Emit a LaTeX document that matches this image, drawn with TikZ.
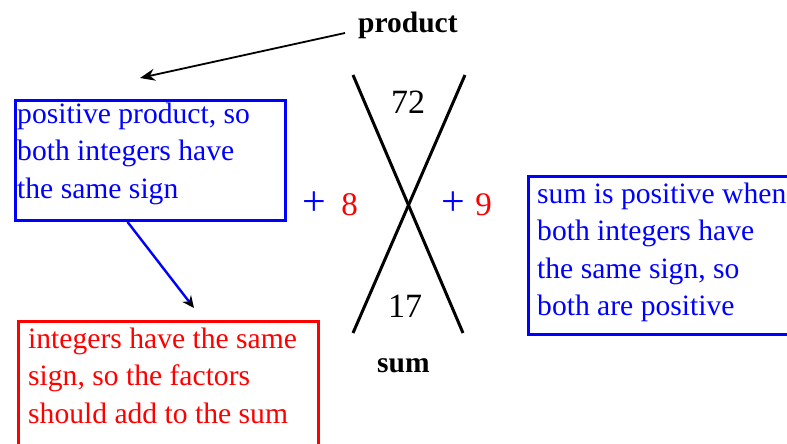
\documentclass[tikz,border=0pt]{standalone}
\usepackage{fontspec}
\setmainfont{Liberation Serif}
\usetikzlibrary{arrows.meta}
\begin{document}
\begin{tikzpicture}[x=1pt,y=-1pt,
  txt/.style={anchor=base west,inner sep=0pt,font=\fontsize{29.6}{37.5}\selectfont},
  frame/.style={draw=#1,line width=3.4pt,anchor=north west,inner sep=0pt},
  num/.style={anchor=base,inner sep=0pt,font=\fontsize{34}{36}\selectfont,text=black},
  lbl/.style={anchor=base west,inner sep=0pt,font=\fontsize{29.5}{32}\selectfont\bfseries},
  xline/.style={line width=3pt,black}
]
\useasboundingbox (0,0) rectangle (787,444);
\clip (0,0) rectangle (787,444);
\fill[white] (0,0) rectangle (787,444);

% frames
\node[frame=blue,minimum width=270pt,minimum height=120pt] (b1) at (13.5,98.5) {};
\node[frame=blue,minimum width=300pt,minimum height=158pt] (b2) at (526.5,174.5) {};
\node[frame=red,minimum width=300pt,minimum height=160pt] (b3) at (16.5,319.5) {};

% texts
\node[txt,text=blue] (t1) at (17,123) {\parbox[t]{300pt}{\raggedright positive product, so\\both integers have\\the same sign}};
\node[txt,text=blue] (t2) at (537,203) {\parbox[t]{300pt}{\raggedright sum is positive when\\both integers have\\the same sign, so\\both are positive}};
\node[txt,text=red] (t3) at (28,348) {\parbox[t]{300pt}{\raggedright integers have the same\\sign, so the factors\\should add to the sum}};

% X
\coordinate (xa) at (353,75);
\coordinate (xb) at (463,333);
\coordinate (xc) at (465,75);
\coordinate (xd) at (353,333);
\draw[xline] (xa) -- (xb);
\draw[xline] (xc) -- (xd);

\node[num] (n72) at (408,113) {72};
\node[num] (n17) at (405,317) {17};

% signs
\node[anchor=base,inner sep=0pt,font=\fontsize{42}{42}\selectfont,text=blue] (p1) at (314,215) {+};
\node[anchor=base,inner sep=0pt,font=\fontsize{33}{33}\selectfont,text=red] (d8) at (349.5,215) {8};
\node[anchor=base,inner sep=0pt,font=\fontsize{42}{42}\selectfont,text=blue] (p2) at (453.5,215) {+};
\node[anchor=base,inner sep=0pt,font=\fontsize{33}{33}\selectfont,text=red] (d9) at (483.5,215) {9};

% labels
\node[lbl] (prod) at (358,33) {product};
\node[lbl] (sum) at (377,372) {sum};

% arrows
\coordinate (a1) at (140,78);
\draw[line width=1.8pt,-{Stealth[length=15pt,width=12pt]}] ([xshift=-13pt]prod.base west) -- (a1);
\coordinate (a2) at (194,308);
\draw[blue,line width=2.4pt,-{Stealth[length=12pt,width=11pt,black]}] ([xshift=114pt]b1.south west) -- (a2);
\end{tikzpicture}
\end{document}
